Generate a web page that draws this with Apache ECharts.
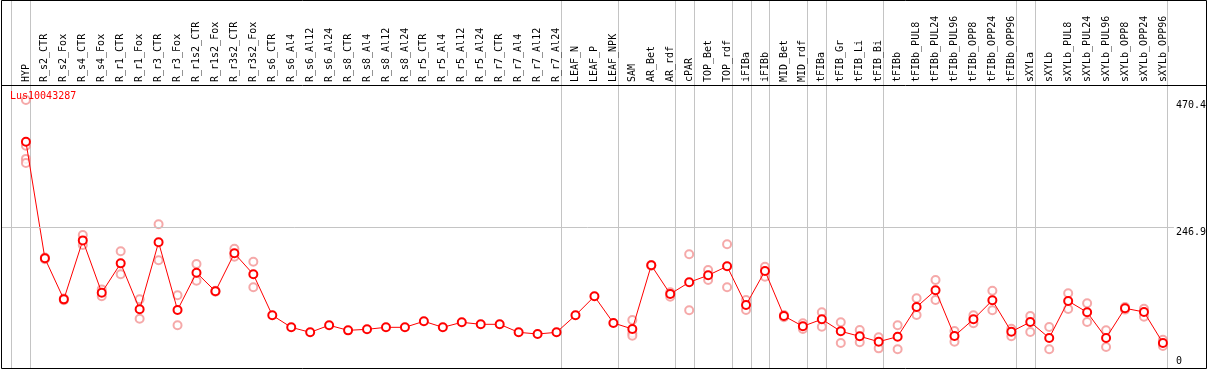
<!DOCTYPE html>
<html>
<head>
<meta charset="utf-8">
<script src="https://cdn.jsdelivr.net/npm/echarts@6/dist/echarts.min.js"></script>
<style>
html,body{margin:0;padding:0;background:#fff;}
#chart{width:1209px;height:370px;}
</style>
</head>
<body>
<div id="chart"></div>
<script>
const geneName = 'Lus10043287';
const categories = ['HYP','R_s2_CTR','R_s2_Fox','R_s4_CTR','R_s4_Fox','R_r1_CTR','R_r1_Fox','R_r3_CTR','R_r3_Fox','R_r1s2_CTR','R_r1s2_Fox','R_r3s2_CTR','R_r3s2_Fox','R_s6_CTR','R_s6_Al4','R_s6_Al12','R_s6_Al24','R_s8_CTR','R_s8_Al4','R_s8_Al12','R_s8_Al24','R_r5_CTR','R_r5_Al4','R_r5_Al12','R_r5_Al24','R_r7_CTR','R_r7_Al4','R_r7_Al12','R_r7_Al24','LEAF_N','LEAF_P','LEAF_NPK','SAM','AR_Bet','AR_rdf','cPAR','TOP_Bet','TOP_rdf','iFIBa','iFIBb','MID_Bet','MID_rdf','tFIBa','tFIB_Gr','tFIB_Li','tFIB_Bi','tFIBb','tFIBb_PUL8','tFIBb_PUL24','tFIBb_PUL96','tFIBb_OPP8','tFIBb_OPP24','tFIBb_OPP96','sXYLa','sXYLb','sXYLb_PUL8','sXYLb_PUL24','sXYLb_PUL96','sXYLb_OPP8','sXYLb_OPP24','sXYLb_OPP96'];
const meanValues = [397,192.5,120.5,224,132.2,183.7,103,220.6,101.8,167.3,134.6,201.3,164.4,92.5,71.4,62.6,75,66.1,67.9,71.4,71.4,82,71.4,80.2,76.7,76.7,62.6,59.7,62.6,92.5,125.8,79,68.5,180.3,129.9,150.4,162.7,178.5,110.6,170.3,91.3,73.2,85.5,64.4,55.6,46.2,55,107.1,136.4,56.2,85.5,118.8,63.7,80.7,52.7,117.6,97.8,52.7,104.8,98.3,43.9];
const replicateValues = [
  [470.4,390,367,360],[194,191],[122,119],[233.5,216],[138,126],[204.8,164.4],[120.5,86.6],[252.2,189],[127.6,75],[182.5,153.3],
  [135.5,133.7],[209.4,195.4],[186.6,141.6],[],[],[],[],[],[],[],
  [],[],[],[],[],[],[],[],[],[],
  [],[],[84.3,60.9,56.7],[181,179.5],[125.2,133],[199.6,101.3],[172,154.5],[217.1,141.6],[119.4,101.8],[177.8,160.3],
  [93,89],[78.5,68.5],[97.8,72.5],[80.2,43.9],[66.7,45.1],[53.9,34.5],[75,32.8],[122.3,93],[154.5,119.4],[65,46.2],
  [92.5,78.5],[135.7,101.3],[69,55.6],[91.3,63.2],[72,32.8],[131.1,103.6],[113.6,80.7],[66.2,36.9],[107,102.5],[104.1,90],
  [49.7,38.6]
];
// index of the last category of each group (separator drawn after it)
const groupEnds = [-1,0,28,31,34,35,37,38,39,41,42,45,52,53,60];
const yTopLabels = [246.9, 470.4];
const yBottomLabels = [0];
const gridLineValue = 246.9;
const yMaxShown = 470.4;

// layout
const GL = 1, GW = 1176, GT = 0, GH = 368;
const STEP = 19, X0 = 26;
const xMin = (GL - X0) / STEP;
const xMax = (GL + GW - X0) / STEP;
const yMax = yMaxShown * GH / 268;
const SEP_OFF = 4.5 / STEP;

const FONT = 'DejaVu Sans Mono';

const meanData = meanValues.map((v, i) => [i, v]);
const repData = [];
replicateValues.forEach((arr, i) => arr.forEach(v => repData.push([i, v])));

const chart = echarts.init(document.getElementById('chart'), null, { renderer: 'canvas' });
const frame = [{
  type: 'rect', shape: { x: 1.5, y: 0.5, width: 1205, height: 368 },
  style: { fill: 'none', stroke: '#000', lineWidth: 1 }, z: 100, silent: true
}, {
  type: 'line', shape: { x1: 1, y1: 85.5, x2: 1207, y2: 85.5 },
  style: { stroke: '#000', lineWidth: 1 }, z: 100, silent: true
}];
chart.setOption({
  animation: false,
  backgroundColor: '#fff',
  title: {
    text: geneName, left: 10, top: 91, padding: 0,
    textStyle: { color: '#ff0000', fontSize: 10, fontWeight: 'normal', fontFamily: FONT }
  },
  grid: { left: GL, top: GT, width: GW, height: GH, containLabel: false },
  xAxis: {
    type: 'value', min: xMin, max: xMax, position: 'top', offset: -85,
    axisLine: { show: false }, axisTick: { show: false }, splitLine: { show: false },
    axisLabel: {
      customValues: categories.map((c, i) => i),
      formatter: v => categories[Math.round(v)] || '',
      rotate: 90, margin: 3, color: '#000', fontSize: 10, fontFamily: FONT,
      hideOverlap: false, showMinLabel: true, showMaxLabel: true
    }
  },
  yAxis: [{
    type: 'value', min: 0, max: yMax, position: 'right',
    axisLine: { show: false }, axisTick: { show: false }, splitLine: { show: false },
    axisLabel: {
      customValues: yTopLabels, formatter: v => String(v), verticalAlign: 'top',
      margin: 2, color: '#000', fontSize: 10, fontFamily: FONT
    }
  }, {
    type: 'value', min: 0, max: yMax, position: 'right',
    axisLine: { show: false }, axisTick: { show: false }, splitLine: { show: false },
    axisLabel: {
      customValues: yBottomLabels, formatter: v => String(v), verticalAlign: 'bottom',
      margin: 2, color: '#000', fontSize: 10, fontFamily: FONT, padding: [0, 0, 2, 0]
    }
  }],
  series: [{
    type: 'scatter', name: 'replicates', data: repData, z: 2,
    symbol: 'emptyCircle', symbolSize: 8,
    itemStyle: { color: '#f29494', borderColor: '#f29494', borderWidth: 1.1 },
    markLine: {
      silent: true, symbol: 'none', animation: false,
      label: { show: false },
      lineStyle: { color: '#c4c4c4', width: 1, type: 'solid' },
      data: [{ yAxis: gridLineValue }]
    }
  }, {
    type: 'line', name: 'mean', data: meanData, z: 3,
    symbol: 'emptyCircle', symbolSize: 8,
    lineStyle: { color: '#ff0000', width: 1 },
    itemStyle: { color: '#ff0000', borderColor: '#ff0000', borderWidth: 1.3 }
  }],
  graphic: frame
});

// group separators, positioned through the x axis scale
const seps = groupEnds.map(k => {
  const px = Math.round(chart.convertToPixel({ xAxisIndex: 0 }, k + SEP_OFF)) + 0.5;
  return {
    type: 'line', shape: { x1: px, y1: 0, x2: px, y2: 368 },
    style: { stroke: '#c4c4c4', lineWidth: 1 }, z: -10, silent: true
  };
});
chart.setOption({ graphic: frame.concat(seps) });
</script>
</body>
</html>
